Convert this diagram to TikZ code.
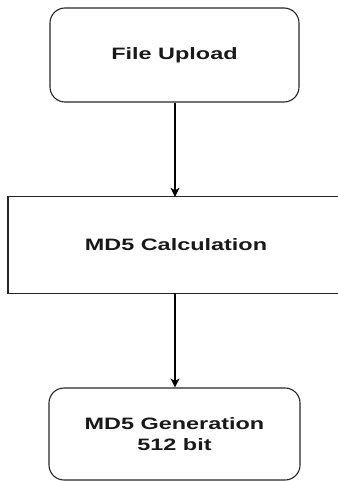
\documentclass[tikz,border=0pt]{standalone}
\usepackage{fontspec}
\usetikzlibrary{arrows.meta}
\newfontfamily\boxfont[FakeStretch=1.42]{Liberation Sans}
\begin{document}
\begin{tikzpicture}[x=1pt,y=-1pt,
  boxtext/.style={font=\boxfont\bfseries\fontsize{16.5}{21}\selectfont, text=black!90, align=center},
  roundbox/.style={draw=black!85, line width=1.1pt, rounded corners=15pt, boxtext},
  frame/.style={draw=black!85, line width=1.1pt},
  flow/.style={draw=black, line width=1.1pt, -{Stealth[length=9pt,width=9pt,inset=2.5pt]}}]
  \useasboundingbox (0,0) rectangle (337,481);
  \node[roundbox, minimum width=249pt, minimum height=94pt] (upload) at (174.5,55) {File Upload};
  % the calculation step runs past the right margin
  \node[boxtext, minimum height=96pt] (calc) at (176,245) {MD5 Calculation};
  \draw[frame] (8,0 |- calc.north) rectangle (380,0 |- calc.south);
  \node[roundbox, minimum width=251pt, minimum height=92pt] (gen) at (174.5,434) {MD5 Generation\\512 bit};
  \draw[flow] (upload.south -| 175,0) -- (calc.north -| 175,0);
  \draw[flow] (calc.south -| 175,0) -- (gen.north -| 175,0);
\end{tikzpicture}
\end{document}
